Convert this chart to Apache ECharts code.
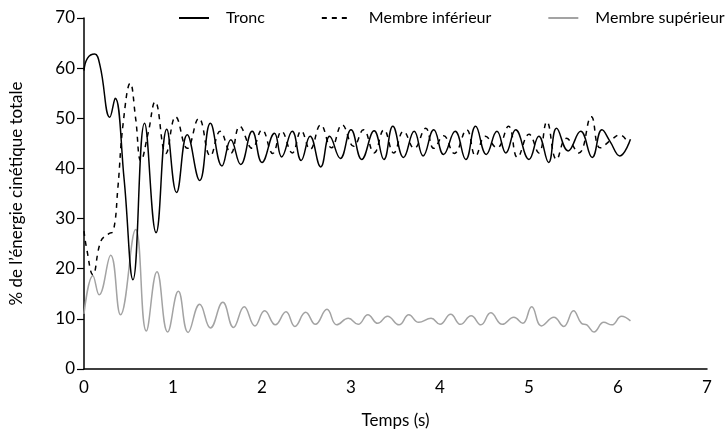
<!DOCTYPE html>
<html>
<head>
<meta charset="utf-8">
<script src="https://cdn.jsdelivr.net/npm/echarts@6/dist/echarts.min.js"></script>
<style>
  html, body { margin: 0; padding: 0; background: #fff; }
  #chart { width: 725px; height: 434px; }
</style>
</head>
<body>
<div id="chart"></div>
<script>
// peaks / troughs (time in s, % of total kinetic energy)
const troncT = [0.00, 0.04, 0.12, 0.18, 0.29, 0.35, 0.45, 0.55, 0.68, 0.81, 0.93, 1.04, 1.16, 1.30, 1.42, 1.55, 1.65, 1.76, 1.89, 2.00, 2.14, 2.22, 2.34, 2.44, 2.54, 2.66, 2.76, 2.88, 3.00, 3.12, 3.26, 3.37, 3.47, 3.59, 3.71, 3.81, 3.93, 4.04, 4.17, 4.29, 4.40, 4.52, 4.64, 4.74, 4.85, 5.00, 5.11, 5.22, 5.31, 5.44, 5.58, 5.71, 5.82, 5.91, 6.02, 6.14];
const troncV = [59.5, 62.0, 62.8, 60.5, 50.2, 54.0, 38.0, 17.8, 49.0, 27.2, 47.8, 35.2, 46.7, 37.6, 49.0, 40.5, 45.7, 40.8, 47.4, 41.2, 47.0, 42.3, 47.4, 41.6, 46.4, 40.3, 46.4, 42.0, 47.7, 41.8, 47.5, 41.8, 48.4, 42.2, 47.4, 42.5, 47.7, 42.8, 47.4, 41.8, 48.4, 42.8, 47.4, 43.1, 47.7, 41.8, 46.4, 41.2, 48.0, 43.5, 47.4, 42.2, 47.7, 45.4, 42.5, 45.8];

const infT = [0.00, 0.03, 0.10, 0.19, 0.28, 0.33, 0.38, 0.44, 0.52, 0.58, 0.64, 0.72, 0.80, 0.92, 1.03, 1.16, 1.29, 1.42, 1.53, 1.65, 1.75, 1.89, 2.00, 2.12, 2.22, 2.34, 2.44, 2.54, 2.66, 2.78, 2.90, 3.03, 3.14, 3.26, 3.37, 3.48, 3.59, 3.71, 3.84, 3.93, 4.04, 4.16, 4.30, 4.40, 4.51, 4.64, 4.77, 4.87, 5.00, 5.11, 5.20, 5.31, 5.42, 5.56, 5.70, 5.80, 5.93, 6.02, 6.12];
const infV = [27.5, 24.0, 18.8, 25.5, 27.0, 27.5, 36.0, 49.0, 57.0, 50.0, 41.5, 47.0, 53.3, 43.0, 50.3, 44.0, 50.0, 42.5, 47.4, 43.0, 48.4, 44.0, 47.7, 43.0, 47.4, 43.1, 47.5, 43.8, 48.7, 44.1, 48.7, 44.4, 47.7, 43.1, 47.7, 43.1, 47.4, 44.0, 48.0, 44.0, 46.5, 43.0, 47.7, 42.5, 46.4, 44.1, 48.4, 42.2, 46.8, 43.1, 49.3, 41.8, 46.0, 43.1, 50.3, 44.1, 45.8, 46.7, 44.8];

const supT = [0.00, 0.10, 0.17, 0.30, 0.41, 0.58, 0.70, 0.82, 0.94, 1.06, 1.17, 1.30, 1.42, 1.56, 1.68, 1.80, 1.92, 2.03, 2.15, 2.27, 2.37, 2.49, 2.60, 2.73, 2.84, 2.97, 3.08, 3.19, 3.30, 3.41, 3.54, 3.65, 3.76, 3.90, 4.00, 4.12, 4.23, 4.35, 4.46, 4.57, 4.70, 4.83, 4.93, 5.03, 5.14, 5.28, 5.39, 5.50, 5.59, 5.65, 5.73, 5.84, 5.93, 6.04, 6.14];
const supV = [11.0, 18.6, 14.8, 22.7, 10.8, 27.8, 7.6, 19.4, 7.4, 15.5, 7.3, 12.9, 8.2, 13.3, 8.3, 12.4, 8.6, 11.6, 8.8, 11.4, 8.5, 11.3, 8.9, 11.9, 8.8, 10.1, 8.9, 10.8, 9.1, 10.5, 8.8, 10.8, 9.3, 10.1, 8.9, 10.9, 8.9, 10.6, 8.8, 11.2, 8.9, 10.3, 9.1, 12.4, 8.6, 10.3, 8.5, 11.6, 9.1, 8.8, 7.4, 9.3, 8.8, 10.5, 9.6];

const xTicks = [0, 1, 2, 3, 4, 5, 6, 7];

const zip = (t, v) => t.map((x, i) => [x, v[i]]);
const font = "Lato, 'Open Sans', sans-serif";

const chart = echarts.init(document.getElementById("chart"), null, { renderer: "canvas" });
chart.setOption({
  animation: false,
  textStyle: { fontFamily: font, color: "#000" },
  grid: { left: 83, right: 18, top: 18, bottom: 54, containLabel: false },
  legend: {
    top: 10,
    left: 178,
    width: 560,
    padding: 0,
    itemGap: 56,
    itemWidth: 30,
    itemHeight: 12,
    itemStyle: { opacity: 0 },
    textStyle: { fontFamily: font, fontSize: 16, color: "#000", padding: [0, 0, 0, 12] },
    data: ["Tronc", "Membre inférieur", "Membre supérieur"]
  },
  xAxis: {
    type: "value",
    min: 0,
    max: 7,
    interval: 1,
    name: "Temps (s)",
    nameLocation: "middle",
    nameGap: 43,
    nameTextStyle: { fontFamily: font, fontSize: 17, color: "#000" },
    axisLine: { lineStyle: { color: "#000", width: 1.5 } },
    axisTick: { show: false },
    axisLabel: {
      fontFamily: font, fontSize: 17, color: "#000", margin: 10,
      formatter: v => (xTicks.includes(v) ? String(v) : "")
    },
    splitLine: { show: false }
  },
  yAxis: {
    type: "value",
    min: 0,
    max: 70,
    interval: 10,
    name: "% de l\u2019énergie cinétique totale",
    nameLocation: "middle",
    nameGap: 59,
    nameTextStyle: { fontFamily: font, fontSize: 17, color: "#000" },
    axisLine: { show: true, lineStyle: { color: "#000", width: 1.5 } },
    axisTick: { show: true, length: 7, lineStyle: { color: "#000", width: 1.2 } },
    axisLabel: { fontFamily: font, fontSize: 17, color: "#000", margin: 9 },
    splitLine: { show: false }
  },
  series: [
    {
      name: "Tronc",
      type: "line",
      data: zip(troncT, troncV),
      smooth: 0.45,
      symbol: "none",
      lineStyle: { color: "#000", width: 1.5 },
      itemStyle: { color: "#000" },
      z: 3
    },
    {
      name: "Membre inférieur",
      type: "line",
      data: zip(infT, infV),
      smooth: 0.45,
      symbol: "none",
      lineStyle: { color: "#000", width: 1.5, type: [5, 5] },
      itemStyle: { color: "#000" },
      z: 2
    },
    {
      name: "Membre supérieur",
      type: "line",
      data: zip(supT, supV),
      smooth: 0.45,
      symbol: "none",
      lineStyle: { color: "#a3a3a3", width: 1.5 },
      itemStyle: { color: "#a3a3a3" },
      z: 1
    }
  ]
});
</script>
</body>
</html>
